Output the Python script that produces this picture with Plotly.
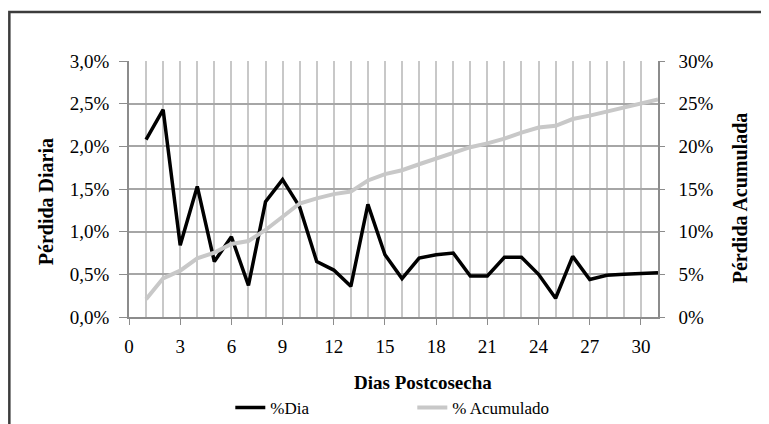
import plotly.graph_objects as go

# Days after harvest
dias = list(range(1, 32))

# Daily loss (%)
pct_dia = [2.08, 2.43, 0.84, 1.53, 0.65, 0.94, 0.37, 1.35, 1.61, 1.29,
           0.65, 0.55, 0.36, 1.32, 0.73, 0.45, 0.69, 0.73, 0.75, 0.48,
           0.48, 0.70, 0.70, 0.50, 0.22, 0.71, 0.44, 0.49, 0.50, 0.51, 0.52]

# Cumulative loss (%)
pct_acum = [2.07, 4.53, 5.43, 6.88, 7.54, 8.55, 8.90, 10.2, 11.75, 13.3,
            13.9, 14.4, 14.7, 16.0, 16.75, 17.2, 17.9, 18.6, 19.3, 19.9,
            20.35, 20.9, 21.6, 22.2, 22.4, 23.2, 23.6, 24.1, 24.6, 25.1, 25.5]

FONT = "Liberation Serif"
tick_font = dict(family=FONT, size=19, color="#000000")

fig = go.Figure()

fig.add_trace(go.Scatter(
    x=dias, y=pct_dia, name="%Dia", mode="lines",
    line=dict(color="#000000", width=3.5),
    yaxis="y",
))

fig.add_trace(go.Scatter(
    x=dias, y=pct_acum, name="% Acumulado", mode="lines",
    line=dict(color="#c8c8c8", width=4),
    yaxis="y2",
))

fig.update_layout(
    # taller than the window so the legend has room below; the page crops it
    width=769, height=440,
    # page body adds an 8px offset, so margins are set relative to that
    margin=dict(l=120.7, r=119.3, t=53, b=131),
    paper_bgcolor="white", plot_bgcolor="white",
    separators=",.",
    font=dict(family=FONT, size=19, color="#000000"),
    showlegend=True,
    legend=dict(
        orientation="h", x=0.1915, xanchor="left", y=-0.355, yanchor="middle",
        entrywidth=137, entrywidthmode="pixels",
        font=dict(family=FONT, size=17, color="#000000"),
        bgcolor="rgba(0,0,0,0)",
    ),
    xaxis=dict(
        range=[0, 31], dtick=3, tick0=0, tickfont=tick_font,
        showgrid=True, gridcolor="#c8c8c8", gridwidth=1.5,
        minor=dict(dtick=1, showgrid=True, gridcolor="#c8c8c8", gridwidth=1.5),
        ticks="outside", ticklen=6, tickcolor="#8c8c8c",
        showline=True, linecolor="#8c8c8c", linewidth=1.5,
        ticklabelstandoff=5, zeroline=False,
    ),
    yaxis=dict(
        range=[0, 3], dtick=0.5, tickformat=".1f", ticksuffix="%",
        tickfont=tick_font,
        showgrid=True, gridcolor="#a6a6a6", gridwidth=1.5,
        ticks="outside", ticklen=8, tickcolor="#8c8c8c",
        showline=True, linecolor="#8c8c8c", linewidth=1.5,
        ticklabelstandoff=6, zeroline=False,
    ),
    yaxis2=dict(
        range=[0, 30], dtick=5, tickformat="d", ticksuffix="%",
        tickfont=tick_font,
        overlaying="y", side="right", showgrid=False,
        ticks="outside", ticklen=5, tickcolor="#8c8c8c",
        showline=True, linecolor="#8c8c8c", linewidth=1.5,
        ticklabelstandoff=10, zeroline=False,
    ),
)

# axis titles
fig.add_annotation(text="<b>Pérdida Diaria</b>", xref="paper", yref="paper",
                   x=-0.158, y=0.45, xanchor="center", yanchor="middle",
                   textangle=-90, showarrow=False,
                   font=dict(family=FONT, size=20))
fig.add_annotation(text="<b>Pérdida Acumulada</b>", xref="paper", yref="paper",
                   x=1.1556, y=0.465, xanchor="center", yanchor="middle",
                   textangle=-90, showarrow=False,
                   font=dict(family=FONT, size=20))
fig.add_annotation(text="<b>Dias Postcosecha</b>", xref="paper", yref="paper",
                   x=0.556, y=-0.255, xanchor="center", yanchor="middle",
                   showarrow=False,
                   font=dict(family=FONT, size=19))

# outer chart frame (cut off on the right and bottom)
fig.add_shape(type="rect", xref="paper", yref="paper",
              x0=-0.2262, y0=-0.6, x1=1.3, y1=1.191,
              line=dict(color="#3c3c3c", width=2.5), layer="above")

fig.write_html("out.html")
